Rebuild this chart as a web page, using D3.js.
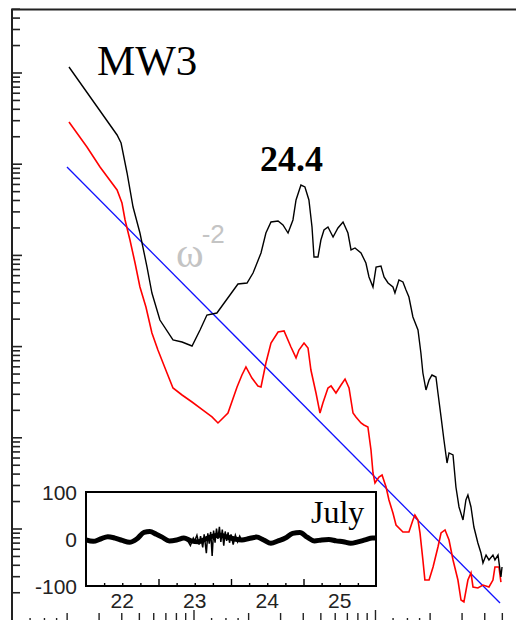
<!DOCTYPE html>
<html>
<head>
<meta charset="utf-8">
<script src="https://cdn.jsdelivr.net/npm/d3@7"></script>
<style>
body { margin: 0; background: #fff; }
</style>
</head>
<body>
<svg id="chart" width="516" height="620"></svg>
<script>
// spectra (log10 of frequency, log10 of power)
var blackFreq = [0.314,0.579,0.601,0.634,0.667,0.705,0.744,0.771,0.815,0.887,0.937,0.992,1.036,1.074,1.129,1.201,1.245,1.295,1.328,1.372,1.399,1.427,1.466,1.493,1.521,1.548,1.565,1.592,1.614,1.636,1.653,1.664,1.686,1.702,1.719,1.741,1.769,1.796,1.824,1.851,1.868,1.890,1.923,1.950,1.967,1.989,2.006,2.033,2.050,2.072,2.099,2.110,2.132,2.154,2.171,2.187,2.209,2.237,2.253,2.264,2.281,2.298,2.314,2.336,2.347,2.364,2.380,2.397,2.408,2.430,2.446,2.463,2.485,2.501,2.512,2.529,2.545,2.567,2.584,2.595,2.612,2.628,2.650,2.661,2.678,2.694,2.700];
var blackPow = [6.060,5.315,5.227,4.898,4.525,4.240,3.867,3.582,3.286,3.067,3.045,3.001,3.177,3.341,3.363,3.560,3.681,3.692,3.801,4.021,4.240,4.361,4.372,4.328,4.240,4.383,4.602,4.766,4.745,4.602,4.306,3.977,3.977,4.163,4.273,4.306,4.196,4.295,4.361,4.240,4.054,4.076,4.021,3.911,3.758,3.648,3.867,3.878,3.758,3.692,3.648,3.582,3.725,3.703,3.615,3.538,3.319,3.177,2.924,2.705,2.519,2.628,2.683,2.661,2.486,2.223,1.970,1.718,1.828,1.806,1.455,1.236,1.093,1.313,1.367,1.236,1.016,0.841,0.731,0.622,0.709,0.655,0.709,0.655,0.709,0.468,0.578];

var redFreq = [0.314,0.413,0.485,0.579,0.606,0.623,0.650,0.678,0.705,0.738,0.771,0.804,0.854,0.887,0.937,0.992,1.052,1.102,1.135,1.190,1.240,1.267,1.289,1.322,1.355,1.372,1.399,1.427,1.466,1.499,1.537,1.565,1.581,1.609,1.631,1.647,1.675,1.697,1.713,1.741,1.758,1.785,1.813,1.835,1.857,1.879,1.895,1.923,1.939,1.961,1.978,1.989,2.000,2.022,2.039,2.061,2.077,2.099,2.116,2.154,2.187,2.209,2.220,2.237,2.248,2.264,2.275,2.298,2.320,2.347,2.364,2.386,2.408,2.430,2.457,2.474,2.490,2.512,2.529,2.540,2.567,2.595,2.628,2.650,2.661,2.683,2.694];
var redPow = [5.457,5.183,4.964,4.712,4.569,4.383,4.163,3.911,3.648,3.429,3.144,2.957,2.705,2.541,2.464,2.387,2.299,2.223,2.157,2.266,2.552,2.683,2.771,2.650,2.563,2.552,2.815,3.034,3.155,3.166,2.990,2.870,2.957,3.034,2.979,2.738,2.486,2.266,2.376,2.541,2.563,2.486,2.574,2.639,2.541,2.266,2.223,2.157,2.135,2.113,1.861,1.609,1.499,1.565,1.587,1.455,1.313,1.170,1.038,0.962,0.962,1.093,1.148,1.093,0.951,0.655,0.435,0.435,0.578,0.797,0.951,0.984,0.874,0.655,0.435,0.216,0.194,0.435,0.512,0.359,0.348,0.380,0.359,0.435,0.578,0.578,0.413];

// omega^-2 reference line, end points
var slopeFreq = [0.303, 2.689];
var slopePow = [4.964, 0.183];

// inset: July record
var julyDay = [22.00,22.10,22.20,22.30,22.40,22.50,22.60,22.70,22.80,22.88,22.97,23.05,23.15,23.25,23.35,23.45,23.55,23.65,23.75,23.85,23.95,24.05,24.15,24.25,24.35,24.45,24.55,24.65,24.75,24.85,24.95,25.05,25.15,25.25,25.35,25.45,25.55,25.65,25.75,25.85,25.95,26.00];
var julyVal = [-2,-5,0,5,2,-3,-7,0,14,16,10,4,-4,-2,2,-4,-6,0,6,8,4,0,-2,1,4,-2,-9,-4,2,12,14,4,-4,-2,-1,-4,-6,-9,-6,-2,2,2];
var noiseDay = [23.40,23.44,23.48,23.50,23.53,23.56,23.58,23.61,23.63,23.66,23.68,23.70,23.72,23.74,23.76,23.78,23.80,23.82,23.84,23.86,23.88,23.90,23.92,23.94,23.96,23.98,24.00,24.03,24.06,24.09,24.12,24.15];
var noiseVal = [-3,-14,2,-4,8,-12,6,-18,10,-30,12,-10,15,-36,18,-8,22,0,26,-6,20,-14,16,-4,14,-8,10,-12,8,-6,6,-4];
var insetDays = [22, 23, 24, 25];
var insetYLabels = [100, 0, -100];

var svg = d3.select("#chart");

var x = d3.scaleLog().domain([1, Math.pow(10, 2.777)]).range([12, 516]);
var y = d3.scaleLog().domain([1, Math.pow(10, 6.7)]).range([619.7, 8.66]);

function p10(v) { return Math.pow(10, v); }

// y ticks (no labels)
var yMajor = [], yMinor = [];
for (var d = 0; d <= 6; d++) {
	if (d > 0) yMajor.push(p10(d));
	for (var k = 2; k <= 9; k++) {
		var v = k * p10(d);
		if (v < y.domain()[1]) yMinor.push(v);
	}
}
svg.append("g")
	.attr("transform", "translate(12,0)")
	.call(d3.axisRight(y).tickValues(yMinor).tickSize(8).tickFormat(""))
	.call(function (g) { g.select(".domain").remove(); })
	.selectAll("line").attr("stroke", "#222").attr("stroke-width", 1.6);
svg.append("g")
	.attr("transform", "translate(12,0)")
	.call(d3.axisRight(y).tickValues(yMajor).tickSize(10).tickFormat(""))
	.call(function (g) { g.select(".domain").remove(); })
	.selectAll("line").attr("stroke", "#222").attr("stroke-width", 1.6);

// x ticks along the bottom edge
var xMajor = [10, 100], xMinor = [], xDots = [];
for (var d = 0; d <= 2; d++) {
	for (var k = 2; k <= 9; k++) {
		var v = k * p10(d);
		if (v < x.domain()[1]) xMinor.push(v);
	}
	[1.25, 1.5, 1.75].forEach(function (m) { xDots.push(m * p10(d)); });
}
function bottomTicks(vals, len) {
	svg.append("g")
		.attr("transform", "translate(0,620)")
		.call(d3.axisTop(x).tickValues(vals).tickSize(len).tickFormat(""))
		.call(function (g) { g.select(".domain").remove(); })
		.selectAll("line").attr("stroke", "#222").attr("stroke-width", 1.4);
}
bottomTicks(xDots, 2);
bottomTicks(xMinor, 7);
bottomTicks(xMajor, 10);

// frame: left and top
svg.append("path")
	.attr("d", "M12,620V9.5H516")
	.attr("fill", "none")
	.attr("stroke", "#222")
	.attr("stroke-width", 2);

var line = d3.line()
	.x(function (d) { return x(p10(d[0])); })
	.y(function (d) { return y(p10(d[1])); });

svg.append("path")
	.datum(d3.zip(slopeFreq, slopePow))
	.attr("d", line)
	.attr("fill", "none")
	.attr("stroke", "#1010ff")
	.attr("stroke-width", 1.3);

svg.append("path")
	.datum(d3.zip(redFreq, redPow))
	.attr("d", line)
	.attr("fill", "none")
	.attr("stroke", "#ff0000")
	.attr("stroke-width", 1.6);

svg.append("path")
	.datum(d3.zip(blackFreq, blackPow))
	.attr("d", line)
	.attr("fill", "none")
	.attr("stroke", "#000")
	.attr("stroke-width", 1.4);

// annotations
svg.append("text")
	.attr("x", 97).attr("y", 75)
	.attr("font-family", "Liberation Serif, Times New Roman, serif")
	.attr("font-size", 43)
	.text("MW3");

svg.append("text")
	.attr("x", 260).attr("y", 171)
	.attr("font-family", "Liberation Serif, Times New Roman, serif")
	.attr("font-weight", "bold")
	.attr("font-size", 36)
	.text("24.4");

var omega = svg.append("text")
	.attr("x", 176).attr("y", 267)
	.attr("fill", "#c4c4c4")
	.attr("font-family", "Liberation Serif, serif")
	.attr("font-size", 42);
omega.append("tspan").text("ω");
omega.append("tspan").attr("dy", -24).attr("dx", -2)
	.attr("font-family", "Liberation Sans, Arial, sans-serif")
	.attr("font-size", 26).text("-2");

// inset
var ix = d3.scaleLinear().domain([22, 26]).range([86, 376]);
var iy = d3.scaleLinear().domain([-100, 100]).range([586, 492]);

var inset = svg.append("g");
inset.append("rect")
	.attr("x", 86).attr("y", 492).attr("width", 290).attr("height", 94)
	.attr("fill", "#fff")
	.attr("stroke", "#000")
	.attr("stroke-width", 2);

var sixHours = d3.range(22.25, 26, 0.25).filter(function (t) { return t % 1 != 0; });
inset.append("g")
	.attr("transform", "translate(0,586)")
	.call(d3.axisTop(ix).tickValues(sixHours).tickSize(3).tickFormat(""))
	.call(function (g) { g.select(".domain").remove(); })
	.selectAll("line").attr("stroke", "#000").attr("stroke-width", 1.4);
inset.append("g")
	.attr("transform", "translate(0,586)")
	.call(d3.axisTop(ix).tickValues([23, 24, 25]).tickSize(7).tickFormat(""))
	.call(function (g) { g.select(".domain").remove(); })
	.selectAll("line").attr("stroke", "#000").attr("stroke-width", 1.4);

inset.selectAll(".dayLabel")
	.data(insetDays)
	.enter().append("text")
	.attr("class", "dayLabel")
	.attr("x", function (d) { return ix(d + 0.5); })
	.attr("y", 608)
	.attr("text-anchor", "middle")
	.attr("font-family", "Liberation Sans, Arial, sans-serif")
	.attr("font-size", 21)
	.attr("fill", "#222")
	.text(function (d) { return d; });

inset.selectAll(".valLabel")
	.data(insetYLabels)
	.enter().append("text")
	.attr("class", "valLabel")
	.attr("x", 77)
	.attr("y", function (d) { return iy(d) + 8; })
	.attr("text-anchor", "end")
	.attr("font-family", "Liberation Sans, Arial, sans-serif")
	.attr("font-size", 21)
	.attr("fill", "#222")
	.text(function (d) { return d; });

var iline = d3.line()
	.x(function (d) { return ix(d[0]); })
	.y(function (d) { return iy(d[1]); })
	.curve(d3.curveMonotoneX);

inset.append("path")
	.datum(d3.zip(julyDay, julyVal))
	.attr("d", iline)
	.attr("fill", "none")
	.attr("stroke", "#000")
	.attr("stroke-width", 5);

inset.append("path")
	.datum(d3.zip(noiseDay, noiseVal))
	.attr("d", d3.line().x(function (d) { return ix(d[0]); }).y(function (d) { return iy(d[1]); }))
	.attr("fill", "none")
	.attr("stroke", "#000")
	.attr("stroke-width", 1.5);

inset.append("text")
	.attr("x", 311).attr("y", 523)
	.attr("font-family", "Liberation Serif, Times New Roman, serif")
	.attr("font-size", 32)
	.text("July");
</script>
</body>
</html>
